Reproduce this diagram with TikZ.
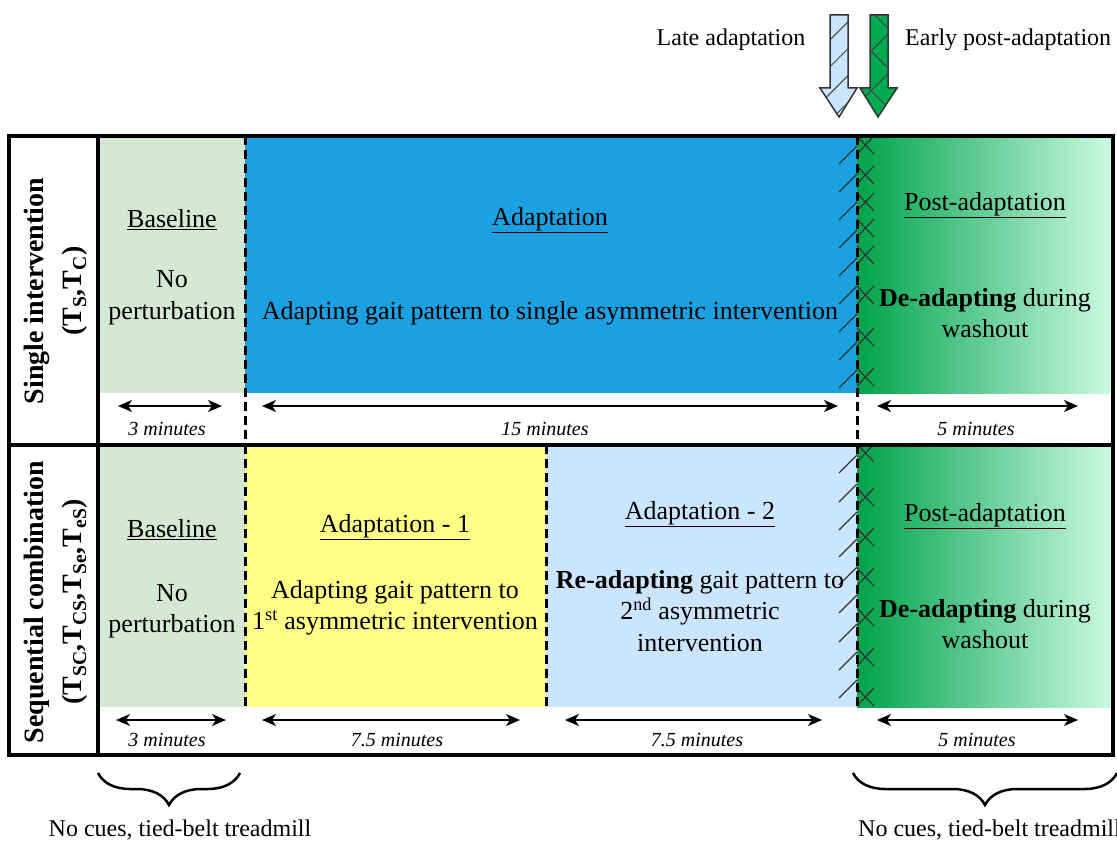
\documentclass[tikz,border=0pt]{standalone}
\usepackage{fontspec}
\setmainfont{Liberation Serif}
\usetikzlibrary{arrows.meta,patterns.meta,decorations.pathreplacing}

\definecolor{basegreen}{RGB}{213,232,212}
\definecolor{adaptblue}{RGB}{27,161,226}
\definecolor{adyellow}{RGB}{255,255,136}
\definecolor{lightblue}{RGB}{204,229,255}
\definecolor{greendark}{RGB}{0,163,75}
\definecolor{greenlight}{RGB}{205,250,228}
\definecolor{arrowgreen}{RGB}{0,170,80}

\begin{document}
\begin{tikzpicture}[x=1pt,y=-1pt,
  txt/.style={font=\fontsize{26}{31.5}\selectfont, align=center, inner sep=0pt},
  ttl/.style={font=\fontsize{26}{31.5}\selectfont, inner sep=0pt},
  dur/.style={font=\fontsize{20}{24}\selectfont\itshape, inner sep=0pt},
  top/.style={font=\fontsize{24}{28}\selectfont, inner sep=0pt},
  durarrow/.style={{Stealth[length=14pt,width=12pt,inset=4pt]}-{Stealth[length=14pt,width=12pt,inset=4pt]}, line width=1.5pt},
  sepline/.style={dash pattern=on 9pt off 5pt, line width=3pt},
  frameline/.style={line width=4pt},
  lbl/.style={font=\fontsize{28}{38}\selectfont\bfseries, align=center, rotate=90, inner sep=0pt},
  hatchline/.style={line width=1.2pt, black!80},
  bracestyle/.style={decorate, decoration={brace, amplitude=32pt}, line width=2.5pt},
]
\useasboundingbox (0,0) rectangle (1117,843);

% ---------- coloured phases ----------
\fill[basegreen] (98,136) rectangle (245,393);
\fill[adaptblue] (245,136) rectangle (857,393);
\shade[left color=greendark, right color=greenlight] (857,136) rectangle (1113,393);

\fill[basegreen] (98,445) rectangle (245,707);
\fill[adyellow] (245,445) rectangle (546,707);
\fill[lightblue] (546,445) rectangle (857,707);
\shade[left color=greendark, right color=greenlight] (857,445) rectangle (1113,707);

% ---------- hatching at the end of adaptation ----------
\foreach \yy in {164,192,220,248,276,304,332,360,388}
  \draw[hatchline] (839,\yy) -- (857,\yy-18);
\foreach \yy in {145,175,202,228,255,295,337,377}
  \draw[hatchline] (857,\yy-9) -- (874,\yy+9) (857,\yy+9) -- (874,\yy-9);
\foreach \yy in {473,502,530,557,585,613,642,670,698}
  \draw[hatchline] (839,\yy) -- (857,\yy-18);
\foreach \yy in {453,497,537,577,617,657,697}
  \draw[hatchline] (857,\yy-9) -- (874,\yy+9) (857,\yy+9) -- (874,\yy-9);

% ---------- dashed separators ----------
\draw[sepline] (245,136) -- (245,445);
\draw[sepline] (857,136) -- (857,445);
\draw[sepline] (245,445) -- (245,707);
\draw[sepline] (546,445) -- (546,707);
\draw[sepline] (857,445) -- (857,707);

% ---------- frame ----------
\draw[frameline] (9,136) rectangle (1113,755);
\draw[frameline] (9,445) -- (1113,445);
\draw[frameline] (98,136) -- (98,755);

% ---------- row labels ----------
\node[lbl] (lab1) at (56,291) {Single intervention\\(T\textsubscript{S},T\textsubscript{C})};
\node[lbl] (lab2) at (56,602) {Sequential combination\\(T\textsubscript{SC},T\textsubscript{CS},T\textsubscript{Se},T\textsubscript{eS})};

% ---------- row 1 texts ----------
\node[ttl] (t1base) at (172,220) {\underline{Baseline}};
\node[ttl] (t1adapt) at (550,220) {\underline{Adaptation}};
\node[ttl] (t1post) at (985,205) {\underline{Post-adaptation}};
\node[txt] (b1base) at (172,298) {No\\perturbation};
\node[txt] (b1adapt) at (550,313) {Adapting gait pattern to single asymmetric intervention};
\node[txt] (b1post) at (985,313) {\textbf{De-adapting} during\\washout};

% ---------- row 2 texts ----------
\node[ttl] (t2base) at (172,530) {\underline{Baseline}};
\node[ttl] (t2ad1) at (395,527) {\underline{Adaptation - 1}};
\node[ttl] (t2ad2) at (700,514) {\underline{Adaptation - 2}};
\node[ttl] (t2post) at (985,516) {\underline{Post-adaptation}};
\node[txt] (b2base) at (172,611) {No\\perturbation};
\node[txt] (b2ad1) at (395,608) {Adapting gait pattern to\\1\textsuperscript{st} asymmetric intervention};
\node[txt] (b2ad2) at (700,611) {\textbf{Re-adapting} gait pattern to\\2\textsuperscript{nd} asymmetric\\intervention};
\node[txt] (b2post) at (985,624) {\textbf{De-adapting} during\\washout};

% ---------- durations ----------
\coordinate (d1aL) at (118,406); \coordinate (d1aR) at (222,406);
\coordinate (d1bL) at (262,406); \coordinate (d1bR) at (838,406);
\coordinate (d1cL) at (877,406); \coordinate (d1cR) at (1078,406);
\coordinate (d2aL) at (116,720); \coordinate (d2aR) at (226,720);
\coordinate (d2bL) at (262,720); \coordinate (d2bR) at (520,720);
\coordinate (d2cL) at (565,720); \coordinate (d2cR) at (822,720);
\coordinate (d2dL) at (877,720); \coordinate (d2dR) at (1078,720);
\draw[durarrow] (d1aL) -- (d1aR);
\draw[durarrow] (d1bL) -- (d1bR);
\draw[durarrow] (d1cL) -- (d1cR);
\draw[durarrow] (d2aL) -- (d2aR);
\draw[durarrow] (d2bL) -- (d2bR);
\draw[durarrow] (d2cL) -- (d2cR);
\draw[durarrow] (d2dL) -- (d2dR);
\node[dur] (m1a) at (167,429) {3 minutes};
\node[dur] (m1b) at (545,429) {15 minutes};
\node[dur] (m1c) at (976,429) {5 minutes};
\node[dur] (m2a) at (167,740) {3 minutes};
\node[dur] (m2b) at (397,740) {7.5 minutes};
\node[dur] (m2c) at (697,740) {7.5 minutes};
\node[dur] (m2d) at (977,740) {5 minutes};

% ---------- top arrows ----------
\path[fill=lightblue, draw=black!80, line width=1.5pt,
  postaction={pattern={Lines[angle=45,distance=19pt,line width=1pt]}, pattern color=black!75}]
  (830,15) -- (848,15) -- (848,88) -- (857,88) -- (839,117) -- (820,88) -- (830,88) -- cycle;
\path[fill=arrowgreen, draw=black!80, line width=1.5pt,
  postaction={pattern={Hatch[angle=45,distance=28pt,line width=1pt]}, pattern color=black!75}]
  (870,15) -- (888,15) -- (888,88) -- (897,88) -- (878,117) -- (860,88) -- (870,88) -- cycle;
\node[top] (late) at (731,40) {Late adaptation};
\node[top, anchor=west] (early) at (905,40) {Early post-adaptation};

% ---------- braces ----------
\coordinate (brLa) at (240,773); \coordinate (brLb) at (98,773);
\coordinate (brRa) at (1117,773); \coordinate (brRb) at (853,773);
\draw[bracestyle] (brLa) -- (brLb);
\draw[bracestyle] (brRa) -- (brRb);
\node[top] (cues1) at (180,830) {No cues, tied-belt treadmill};
\node[top, anchor=west] (cues2) at (858,830) {No cues, tied-belt treadmill};
\end{tikzpicture}
\end{document}
